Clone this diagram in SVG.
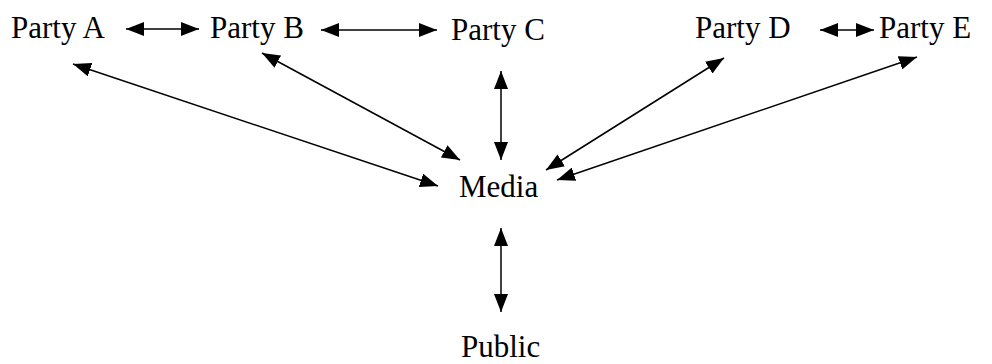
<svg xmlns="http://www.w3.org/2000/svg" width="992" height="364" viewBox="0 0 992 364">
<style>
text{font-family:"Liberation Serif","Times New Roman",serif;font-size:31px;fill:#000}
.c line{stroke:#000;stroke-width:1.5;marker-start:url(#ah);marker-end:url(#ah)}
</style>
<defs>
<marker id="ah" markerUnits="userSpaceOnUse" markerWidth="18" markerHeight="14" refX="18" refY="7" orient="auto-start-reverse" viewBox="0 0 18 14">
<path d="M0,0 L18,7 L0,14 z" fill="#000"/>
</marker>
</defs>
<rect width="992" height="364" fill="#fff"/>
<g class="c" id="connectors">
<line x1="126" y1="29" x2="199" y2="29"/>
<line x1="321" y1="30" x2="437" y2="30"/>
<line x1="820" y1="30" x2="874" y2="30"/>
<line x1="438" y1="186" x2="73" y2="64"/>
<line x1="460" y1="160" x2="262" y2="53"/>
<line x1="501" y1="160" x2="501" y2="71"/>
<line x1="546" y1="170" x2="724" y2="58"/>
<line x1="557" y1="180" x2="917" y2="57"/>
<line x1="501" y1="228" x2="501" y2="312"/>
</g>
<g id="partyA"><text x="11" y="38">Party A</text></g>
<g id="partyB"><text x="210" y="38">Party B</text></g>
<g id="partyC"><text x="451" y="40">Party C</text></g>
<g id="partyD"><text x="695" y="38">Party D</text></g>
<g id="partyE"><text x="879" y="38">Party E</text></g>
<g id="media"><text x="459" y="197">Media</text></g>
<g id="public"><text x="461" y="357">Public</text></g>
</svg>
